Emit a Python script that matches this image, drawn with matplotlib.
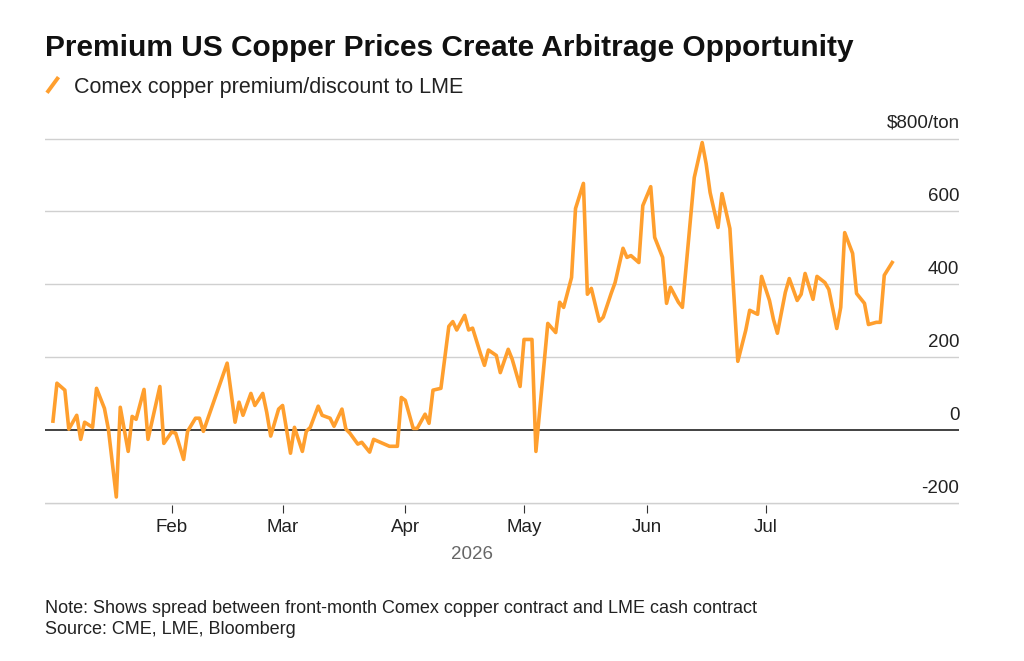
import numpy as np
import matplotlib.pyplot as plt
import matplotlib.dates as mdates
from matplotlib.lines import Line2D
import pandas as pd

# day of year (2026) and Comex premium over LME, $/ton
day_of_year = [2, 3, 5, 6, 8, 9, 10, 12, 13, 15, 16, 18, 19, 21, 22, 23, 25, 26, 29, 30,
               32, 33, 35, 36, 38, 39, 40, 46, 48, 49, 50, 52, 53, 55, 56, 57, 59, 60, 62, 63,
               65, 66, 67, 69, 70, 72, 73, 75, 76, 77, 79, 80, 82, 83, 87, 89, 90, 91, 93, 94,
               96, 97, 98, 100, 102, 103, 104, 106, 107, 108, 110, 111, 112, 114, 115, 117, 118, 120, 121, 123,
               124, 127, 129, 130, 131, 133, 134, 136, 137, 138, 140, 141, 143, 144, 146, 147, 148, 150, 151, 153,
               154, 156, 157, 158, 160, 161, 164, 166, 167, 168, 170, 171, 173, 175, 177, 178, 180, 181, 183, 184,
               185, 187, 188, 190, 191, 192, 194, 195, 197, 198, 200, 201, 202, 204, 205, 207, 208, 210, 211, 212,
               214]
premium = [25, 129, 110, 3, 41, -25, 22, 8, 115, 60, 3, -183, 63, -58, 38, 30, 112, -25, 120, -36,
           -5, -8, -80, -3, 33, 33, -3, 184, 22, 77, 41, 101, 68, 101, 49, -16, 58, 68, -63, 8,
           -58, -3, 8, 66, 41, 33, 11, 58, 3, -8, -38, -33, -60, -25, -44, -44, 90, 82, 5, 5,
           44, 19, 110, 115, 285, 298, 275, 315, 275, 280, 210, 178, 220, 205, 158, 222, 195, 120, 249, 249,
           -58, 293, 268, 351, 337, 419, 608, 677, 373, 389, 299, 310, 375, 405, 499, 474, 479, 460, 616, 668,
           529, 474, 348, 392, 351, 337, 693, 789, 731, 652, 556, 649, 553, 189, 274, 329, 318, 422, 356, 304,
           266, 378, 416, 356, 373, 430, 359, 422, 405, 386, 279, 337, 542, 485, 375, 348, 290, 296, 296, 425,
           460]

dates = pd.Timestamp('2026-01-01') + pd.to_timedelta(np.array(day_of_year) - 1, unit='D')
y_ticks = [-200, 0, 200, 400, 600, 800]
y_labels = ['-200', '0', '200', '400', '600', '$800/ton']
orange = '#ff9f2e'

plt.rcParams['font.family'] = ['Liberation Sans', 'DejaVu Sans']
fig = plt.figure(figsize=(10.24, 6.61), dpi=100)
ax = fig.add_axes([0.044, 0.236, 0.893, 0.582])

for v in y_ticks:
    if v == 0:
        ax.axhline(0, color='#333333', lw=1.3, zorder=2)
    else:
        ax.axhline(v, color='#d0d0d0', lw=1, zorder=1)
ax.plot(dates, premium, color=orange, lw=2.6, zorder=3)

ax.set_ylim(-205, 850)
ax.set_xlim(pd.Timestamp('2025-12-31'), pd.Timestamp('2026-08-19'))
for s in ax.spines.values():
    s.set_visible(False)
ax.set_yticks([])
for v, lab in zip(y_ticks, y_labels):
    ax.text(1.0, v + 18, lab, transform=ax.get_yaxis_transform(), ha='right', va='bottom',
            fontsize=13.5, color='#222222')

ax.xaxis.set_major_locator(mdates.MonthLocator(bymonth=range(2, 8)))
ax.xaxis.set_major_formatter(mdates.DateFormatter('%b'))
ax.tick_params(axis='x', length=6, color='#333333', labelsize=13.5, labelcolor='#222222', pad=4)
ax.axhline(-205, color='#999999', lw=0.8)

fig.text(0.461, 0.155, '2026', fontsize=13.5, color='#666666', ha='center')
fig.text(0.044, 0.915, 'Premium US Copper Prices Create Arbitrage Opportunity',
         fontsize=21.5, fontweight='bold', color='#111111')
fig.add_artist(Line2D([0.047, 0.056], [0.862, 0.881], color=orange, lw=2.8))
fig.text(0.072, 0.86, 'Comex copper premium/discount to LME', fontsize=15.5, color='#222222')
fig.text(0.044, 0.073, 'Note: Shows spread between front-month Comex copper contract and LME cash contract',
         fontsize=13, color='#222222')
fig.text(0.044, 0.041, 'Source: CME, LME, Bloomberg', fontsize=13, color='#222222')

fig.savefig('out.png', dpi=100)
